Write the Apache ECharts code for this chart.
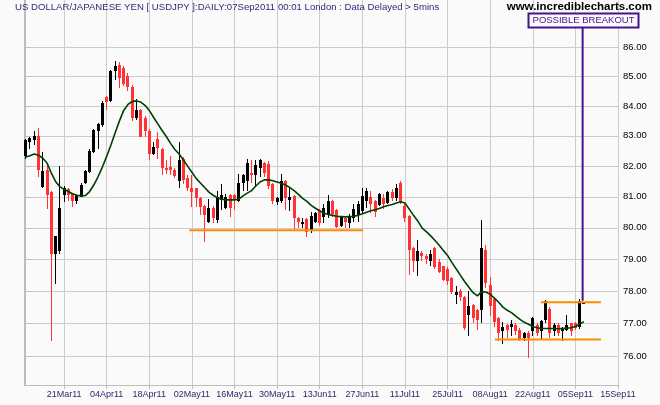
<!DOCTYPE html>
<html><head><meta charset="utf-8">
<script src="https://cdn.jsdelivr.net/npm/echarts@6/dist/echarts.min.js"></script>
<style>html,body{margin:0;padding:0;background:#fafafa}#c{width:660px;height:405px}</style>
</head><body><div id="c"></div>
<script>
// x ticks: trading-day index -> label
const tickIdx = [9,19,29,39,49,59,69,79,89,99,109,119,129,139];
const tickLabels = ['21Mar11','04Apr11','18Apr11','02May11','16May11','30May11','13Jun11','27Jun11','11Jul11','25Jul11','08Aug11','22Aug11','05Sep11','15Sep11'];
const yTicks = [76,77,78,79,80,81,82,83,84,85,86];

// daily candles, index 0 = 08Mar11
const opens = [82.32,82.81,82.85,82.98,81.33,81.88,81.17,79.17,79.25,81.05,81.25,81.10,80.86,81.00,81.45,81.82,82.46,83.17,83.36,84.30,84.18,85.17,85.40,85.30,85.02,84.65,83.60,83.88,83.60,83.17,82.40,82.90,82.55,81.95,81.96,81.87,81.52,82.25,81.60,81.30,81.30,80.96,80.69,80.20,80.65,80.25,80.90,80.65,81.05,81.05,80.87,81.45,81.50,81.78,81.70,81.95,82.10,82.06,81.40,80.82,80.85,81.50,80.90,81.02,80.30,80.12,80.27,79.90,80.20,80.55,80.36,80.45,80.86,80.57,80.05,80.30,80.15,80.30,80.40,80.55,80.85,81.00,80.85,80.73,80.95,80.80,81.15,80.97,81.45,80.70,80.38,79.35,78.93,79.20,79.10,78.95,79.35,78.90,78.78,78.70,78.40,77.87,78.00,77.80,77.27,77.55,77.40,77.40,79.30,78.20,77.75,77.15,76.75,76.95,76.88,76.95,76.80,76.55,76.70,76.75,76.95,76.75,77.10,77.45,76.75,76.95,76.75,76.80,77.00,77.00,76.90,77.64];
const highs = [82.89,82.96,83.15,83.27,82.45,82.04,81.20,79.73,82.00,81.35,81.28,81.12,81.05,81.45,81.88,82.55,83.22,83.42,84.15,84.35,85.22,85.53,85.50,85.35,85.10,84.70,84.25,83.90,83.65,83.22,82.80,83.12,82.60,82.20,82.32,81.95,82.78,82.30,81.72,81.72,81.30,81.00,80.72,80.93,80.70,81.20,81.40,81.10,81.10,81.08,81.75,81.75,82.25,82.20,82.20,82.25,82.15,82.16,81.45,81.00,81.75,81.55,81.30,81.05,80.35,80.30,80.30,80.50,80.50,80.60,80.77,81.05,80.90,80.60,80.38,80.32,80.45,80.75,80.85,81.30,81.30,81.20,80.88,81.12,81.10,81.20,81.25,81.43,81.52,80.75,80.40,79.40,79.60,79.25,79.15,79.30,79.40,79.00,78.80,78.75,78.45,78.15,78.05,77.85,78.00,77.60,77.45,80.25,79.45,78.43,77.80,77.18,77.05,76.98,77.10,77.00,76.85,76.72,76.75,77.20,77.00,77.10,77.72,77.50,77.00,77.00,76.88,77.25,77.02,77.05,77.75,77.66];
const lows = [82.23,82.56,82.70,81.66,81.30,80.60,76.44,78.23,79.15,80.84,80.85,80.68,80.75,80.98,81.40,81.78,82.43,82.57,83.28,83.87,84.12,84.88,84.62,84.66,84.50,83.50,83.52,82.95,82.97,82.20,82.37,82.25,81.70,81.75,81.70,81.60,81.28,81.40,81.20,80.68,80.68,80.42,79.56,80.15,80.15,80.15,80.57,80.60,80.36,80.57,80.82,81.18,81.18,81.45,81.35,81.65,81.65,81.24,80.75,80.72,80.80,80.57,80.55,79.97,80.00,79.98,79.70,79.82,80.15,80.05,80.17,80.30,80.35,79.98,80.02,80.00,80.00,80.20,80.20,80.45,80.63,80.48,80.35,80.70,80.60,80.75,80.85,80.85,80.75,80.20,78.50,78.60,78.47,78.95,78.85,78.80,78.70,78.55,78.30,78.20,77.90,77.60,77.70,76.80,76.60,77.00,76.80,77.00,78.10,77.21,76.90,76.45,76.35,76.55,76.60,76.65,76.45,76.45,75.95,76.60,76.60,76.50,77.00,76.55,76.60,76.60,76.45,76.75,76.60,76.80,76.82,77.62];
const closes = [82.85,82.92,83.00,81.88,81.83,81.06,79.17,79.73,80.63,81.30,81.05,80.86,81.05,81.38,81.83,82.50,83.20,83.40,84.10,84.14,85.20,85.35,84.93,84.75,84.65,83.60,83.86,82.97,83.17,82.40,82.62,82.60,81.95,81.88,81.86,81.67,82.20,81.55,81.28,81.14,80.97,80.67,80.42,80.63,80.30,81.00,81.05,81.00,80.63,80.90,81.45,81.70,82.10,81.70,82.05,82.20,81.78,81.35,80.85,80.95,81.50,80.95,81.00,80.30,80.20,80.20,79.88,80.38,80.47,80.15,80.63,80.86,80.45,80.03,80.36,80.20,80.35,80.60,80.75,81.02,81.20,80.75,80.50,81.10,80.78,81.15,80.95,81.30,80.80,80.33,79.30,78.95,79.25,79.10,79.00,79.15,78.77,78.60,78.35,78.30,77.98,77.98,77.80,76.85,77.54,77.15,77.10,79.35,78.25,77.53,77.05,76.70,76.90,76.78,76.97,76.75,76.50,76.70,76.55,77.15,76.70,77.08,77.68,76.70,76.95,76.70,76.85,76.95,76.75,76.85,77.68,77.65];
// moving average line
const maLine = [82.30,82.34,82.40,82.36,82.26,82.10,81.78,81.50,81.33,81.24,81.17,81.10,81.05,81.03,81.04,81.17,81.39,81.66,81.97,82.32,82.70,83.10,83.50,83.85,84.05,84.15,84.17,84.13,84.02,83.85,83.62,83.40,83.18,82.98,82.75,82.55,82.40,82.20,82.00,81.80,81.60,81.45,81.30,81.15,81.05,80.97,80.92,80.90,80.90,80.90,80.92,81.03,81.12,81.20,81.35,81.48,81.55,81.55,81.52,81.48,81.44,81.38,81.30,81.20,81.08,80.95,80.85,80.72,80.63,80.55,80.47,80.43,80.40,80.37,80.36,80.35,80.36,80.37,80.40,80.45,80.50,80.55,80.58,80.62,80.68,80.72,80.75,80.80,80.84,80.80,80.60,80.40,80.22,80.00,79.88,79.75,79.60,79.45,79.28,79.12,78.90,78.70,78.50,78.30,78.12,77.95,77.85,77.98,77.97,77.90,77.78,77.65,77.50,77.40,77.33,77.22,77.12,77.03,76.97,76.90,76.86,76.84,76.84,76.84,76.84,76.83,76.84,76.85,76.86,76.90,76.97,77.05];
// drawn annotation lines: [startIdx, endIdx, price]
const supportLine = [38.4, 79.2, 79.92];
const rangeLow = [110.1, 135.0, 76.50];
const rangeHigh = [120.9, 135.0, 77.65];
const breakout = [130.7, 77.70, 86.69];

const L = Math.log;
const candleData = opens.map((o, i) => [i, L(o), L(closes[i]), L(lows[i]), L(highs[i])]);
const maData = maLine.map((v, i) => [i, L(v)]);
const labelMap = {}; tickIdx.forEach((t, k) => labelMap[t] = tickLabels[k]);

const gridColor = '#cdcdcd';
const chart = echarts.init(document.getElementById('c'), null, {renderer: 'canvas'});
chart.setOption({
  backgroundColor: '#fafafa',
  animation: false,
  grid: {left: 24, right: 42, top: 0, bottom: 20, containLabel: false},
  xAxis: {
    type: 'value', min: -0.4, max: 139,
    axisLine: {show: true, lineStyle: {color: '#bdbdbd'}},
    axisTick: {show: true, customValues: tickIdx, length: 4, lineStyle: {color: '#bdbdbd'}},
    axisLabel: {customValues: tickIdx, formatter: v => labelMap[Math.round(v)] || '', fontSize: 9,
      color: '#2b2b6b', margin: 5, fontFamily: 'Liberation Sans'},
    splitLine: {show: true, lineStyle: {color: gridColor, width: 1}}
  },
  yAxis: [{
    type: 'value', position: 'right', min: L(75.12), max: L(87.64),
    axisLine: {show: true, lineStyle: {color: '#bdbdbd'}},
    axisTick: {show: true, customValues: yTicks.map(L), length: 5, lineStyle: {color: '#bdbdbd'}},
    axisLabel: {customValues: yTicks.map(L), formatter: v => Math.exp(v).toFixed(2), fontSize: 9.5,
      color: '#000', margin: 5, fontFamily: 'Liberation Sans'},
    splitLine: {show: true, lineStyle: {color: gridColor, width: 1}}
  }, {
    type: 'value', position: 'left', min: L(75.12), max: L(87.64),
    axisLine: {show: true, lineStyle: {color: '#bdbdbd'}},
    axisTick: {show: false}, axisLabel: {show: false}, splitLine: {show: false}
  }],
  series: [
    {
      type: 'custom', clip: true, data: candleData, encode: {x: 0, y: [1, 2, 3, 4]}, z: 3,
      renderItem: (params, api) => {
        const x = api.value(0);
        const pO = api.coord([x, api.value(1)]), pC = api.coord([x, api.value(2)]);
        const pL = api.coord([x, api.value(3)]), pH = api.coord([x, api.value(4)]);
        const col = api.value(2) >= api.value(1) ? '#000000' : '#ff3333';
        const xc = Math.round(pO[0] - 0.5);
        const top = Math.round(Math.min(pO[1], pC[1])), bot = Math.round(Math.max(pO[1], pC[1]));
        const hy = Math.round(pH[1]), ly = Math.round(pL[1]);
        return {type: 'group', children: [
          {type: 'rect', shape: {x: xc, y: hy, width: 1, height: Math.max(1, ly - hy)}, style: {fill: col}},
          {type: 'rect', shape: {x: xc - 1, y: top, width: 3, height: Math.max(2, bot - top)}, style: {fill: col}}
        ]};
      }
    },
    {type: 'line', data: maData, showSymbol: false, symbol: 'none', z: 4,
      lineStyle: {color: '#004000', width: 1.6}},
    {type: 'line', data: [[supportLine[0], L(supportLine[2])], [supportLine[1], L(supportLine[2])]], symbol: 'none', z: 5,
      lineStyle: {color: '#ff8c00', width: 2}},
    {type: 'line', data: [[rangeLow[0], L(rangeLow[2])], [rangeLow[1], L(rangeLow[2])]], symbol: 'none', z: 5,
      lineStyle: {color: '#ff8c00', width: 2}},
    {type: 'line', data: [[rangeHigh[0], L(rangeHigh[2])], [rangeHigh[1], L(rangeHigh[2])]], symbol: 'none', z: 5,
      lineStyle: {color: '#ff8c00', width: 2}},
    {type: 'line', data: [[breakout[0], L(breakout[1])], [breakout[0], L(breakout[2])]], symbol: 'none', z: 6,
      lineStyle: {color: '#4b1090', width: 2}}
  ],
  graphic: [
    {type: 'text', left: 15, top: 2, z: 10, style: {text: 'US DOLLAR/JAPANESE YEN [ USDJPY ]:DAILY:07Sep2011 00:01 London : Data Delayed > 5mins',
      fill: '#2e2e78', font: '9.6px "Liberation Sans"'}},
    {type: 'text', right: 8, top: 1, z: 10, style: {text: 'www.incrediblecharts.com', fill: '#000', font: 'bold 11.5px "Liberation Sans"'}},
    {type: 'rect', z: 10, shape: {x: 528.5, y: 13.5, width: 110, height: 14}, style: {fill: '#fafafa', stroke: '#4b1090', lineWidth: 2}},
    {type: 'text', z: 11, x: 583.5, y: 20.5, style: {text: 'POSSIBLE BREAKOUT', fill: '#4b1090', font: '9.5px "Liberation Sans"', align: 'center', verticalAlign: 'middle'}}
  ]
});
</script>
</body></html>
